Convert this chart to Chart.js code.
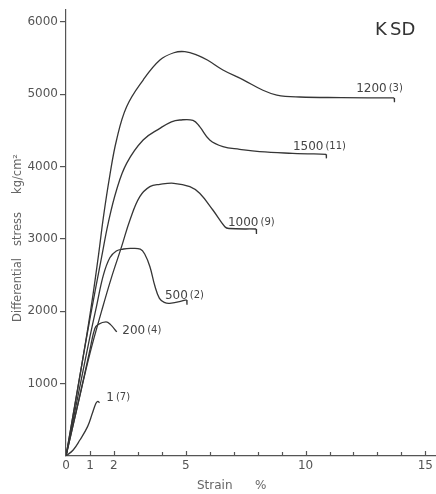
<!DOCTYPE html>
<html>
<head>
<meta charset="utf-8">
<script src="https://cdn.jsdelivr.net/npm/chart.js@4.4.1/dist/chart.umd.min.js"></script>
<style>
  html, body { margin: 0; padding: 0; background: #fff; }
  #wrap { width: 436px; height: 494px; }
</style>
</head>
<body>
<div id="wrap"><canvas id="ksd" width="436" height="494"></canvas></div>
<script>
// stress-strain curves, strain in %, differential stress in kg/cm2
const strain1200 = [0, 0.5, 1.0, 1.35, 1.56, 1.83, 2.11, 2.53, 3.22, 3.92, 4.5, 4.96, 5.5, 5.9, 6.55, 7.4, 8.2, 8.8, 9.75, 11.5, 13.7];
const stress1200 = [0, 950, 1950, 2760, 3300, 3880, 4369, 4829, 5198, 5475, 5575, 5590, 5540, 5475, 5337, 5200, 5060, 4990, 4963, 4955, 4950];

const strain1500 = [0, 0.5, 1.0, 1.49, 1.76, 2.11, 2.53, 3.22, 3.92, 4.4, 4.75, 5.3, 5.58, 6.0, 6.55, 7.25, 8.08, 9.46, 10.86];
const stress1500 = [0, 960, 1900, 2756, 3217, 3678, 4046, 4369, 4530, 4620, 4645, 4640, 4553, 4369, 4277, 4240, 4207, 4185, 4171];

const strain1000 = [0, 0.5, 1.0, 1.5, 1.9, 2.32, 2.67, 3.08, 3.5, 3.92, 4.5, 5.17, 5.58, 6.13, 6.63, 6.8, 7.94];
const stress1000 = [0, 720, 1420, 2020, 2470, 2894, 3263, 3585, 3724, 3755, 3770, 3724, 3632, 3401, 3170, 3145, 3138];

const strain500 = [0, 0.5, 1.0, 1.28, 1.56, 1.83, 2.1, 2.4, 2.7, 3.1, 3.29, 3.5, 3.71, 3.9, 4.1, 4.33, 5.04];
const stress500 = [0, 830, 1650, 2080, 2500, 2740, 2835, 2862, 2870, 2860, 2790, 2620, 2350, 2180, 2125, 2111, 2157];

const strain200 = [0, 0.5, 1.0, 1.2, 1.35, 1.67, 1.85, 2.12];
const stress200 = [0, 720, 1470, 1760, 1820, 1855, 1820, 1715];

const strain1 = [0, 0.3, 0.58, 0.9, 1.1, 1.25, 1.33, 1.4];
const stress1 = [0, 83, 221, 406, 590, 729, 755, 735];

// short end marks where the runs were stopped
const hookStrain = [13.7, 10.86, 7.94, 5.04];
const hookTop = [4950, 4171, 3138, 2157];
const hookBottom = [4890, 4115, 3070, 2090];

// curve labels: pressure and run number
const curveNames = ["1200", "1500", "1000", "500", "200", "1"];
const curveRuns = ["(3)", "(11)", "(9)", "(2)", "(4)", "(7)"];

const strainTicks = [0, 1, 2, 3, 4, 5, 6, 7, 8, 9, 10, 11, 12, 13, 14, 15];
const strainTickLabels = [0, 1, 2, 5, 10, 15];
const stressTicks = [1000, 2000, 3000, 4000, 5000, 6000];

const ink = "#363636";
const textInk = "#555";
const fontFamily = "'DejaVu Sans', sans-serif";

const zip = (xs, ys) => xs.map((x, i) => ({ x, y: ys[i] }));

const curves = [
  zip(strain1200, stress1200),
  zip(strain1500, stress1500),
  zip(strain1000, stress1000),
  zip(strain500, stress500),
  zip(strain200, stress200),
  zip(strain1, stress1),
];

const datasets = curves.map((d) => ({
  data: d,
  borderColor: ink,
  borderWidth: 1.3,
  pointRadius: 0,
  showLine: true,
  tension: 0.4,
}));

hookStrain.forEach((x, i) => {
  datasets.push({
    data: [{ x, y: hookTop[i] }, { x: x + 0.01, y: hookBottom[i] }],
    borderColor: ink,
    borderWidth: 1.3,
    pointRadius: 0,
    showLine: true,
    tension: 0,
  });
});

// where each label sits (left edge / baseline, in data units)
const labelAnchors = [
  [12.11, 5030],
  [9.47, 4225],
  [6.76, 3185],
  [4.13, 2165],
  [2.35, 1680],
  [1.68, 755],
];

const annotations = {
  id: "annotations",
  afterDraw(chart) {
    const { ctx, scales } = chart;
    const x = scales.x;
    const y = scales.y;
    ctx.save();

    // minor ticks on the strain axis, pointing up
    ctx.strokeStyle = "#555";
    ctx.lineWidth = 1.2;
    strainTicks.forEach((v) => {
      if (v === 0) return;
      const px = Math.round(x.getPixelForValue(v)) + 0.5;
      ctx.beginPath();
      ctx.moveTo(px, y.bottom);
      ctx.lineTo(px, y.bottom - (strainTickLabels.includes(v) ? 5 : 4));
      ctx.stroke();
    });

    // curve labels
    ctx.fillStyle = "#444";
    ctx.textBaseline = "alphabetic";
    ctx.textAlign = "left";
    curveNames.forEach((name, i) => {
      const px = x.getPixelForValue(labelAnchors[i][0]);
      const py = y.getPixelForValue(labelAnchors[i][1]);
      ctx.font = "12px " + fontFamily;
      ctx.fillText(name, px, py);
      const w = ctx.measureText(name).width;
      ctx.font = "10px " + fontFamily;
      ctx.fillText(curveRuns[i], px + w + 2, py - 1);
    });

    // axis titles
    ctx.fillStyle = "#666";
    ctx.font = "11.5px " + fontFamily;
    ctx.textAlign = "center";
    ctx.textBaseline = "middle";
    ctx.save();
    ctx.translate(18, 0);
    ctx.rotate(-Math.PI / 2);
    ctx.fillText("Differential", -290, 0);
    ctx.fillText("stress", -229, 0);
    ctx.fillText("kg/cm\u00b2", -174, 0);
    ctx.restore();

    ctx.font = "12px " + fontFamily;
    ctx.textBaseline = "alphabetic";
    ctx.textAlign = "left";
    ctx.fillText("Strain", 197, 489);
    ctx.fillText("%", 255, 489);

    // specimen name
    ctx.fillStyle = "#333";
    ctx.font = "18px " + fontFamily;
    ctx.fillText("K", 375, 35);
    ctx.fillText("SD", 390, 35);

    ctx.restore();
  },
};

new Chart(document.getElementById("ksd"), {
  type: "scatter",
  data: { datasets },
  options: {
    responsive: false,
    animation: false,
    layout: { padding: { top: 10, right: 0, bottom: 0, left: 0 } },
    plugins: {
      legend: { display: false },
      tooltip: { enabled: false },
    },
    scales: {
      x: {
        type: "linear",
        min: 0,
        max: 15.42,
        afterBuildTicks: (scale) => {
          scale.ticks = strainTicks.map((v) => ({ value: v }));
        },
        afterFit: (scale) => {
          scale.height = 38;
        },
        ticks: {
          autoSkip: false,
          maxRotation: 0,
          padding: 3,
          color: textInk,
          font: { family: fontFamily, size: 12 },
          callback: (v) => (strainTickLabels.includes(v) ? String(v) : ""),
        },
        grid: { display: false, drawTicks: false },
        border: { color: "#555", width: 1.2 },
      },
      y: {
        type: "linear",
        min: 0,
        max: 6166,
        afterBuildTicks: (scale) => {
          scale.ticks = stressTicks.map((v) => ({ value: v }));
        },
        afterFit: (scale) => {
          scale.width = 66;
        },
        ticks: {
          padding: 2,
          color: textInk,
          font: { family: fontFamily, size: 12 },
          callback: (v) => String(v),
        },
        grid: { drawOnChartArea: false, tickLength: 6, color: "#555", lineWidth: 1.2 },
        border: { color: "#555", width: 1.2 },
      },
    },
  },
  plugins: [annotations],
});
</script>
</body>
</html>
